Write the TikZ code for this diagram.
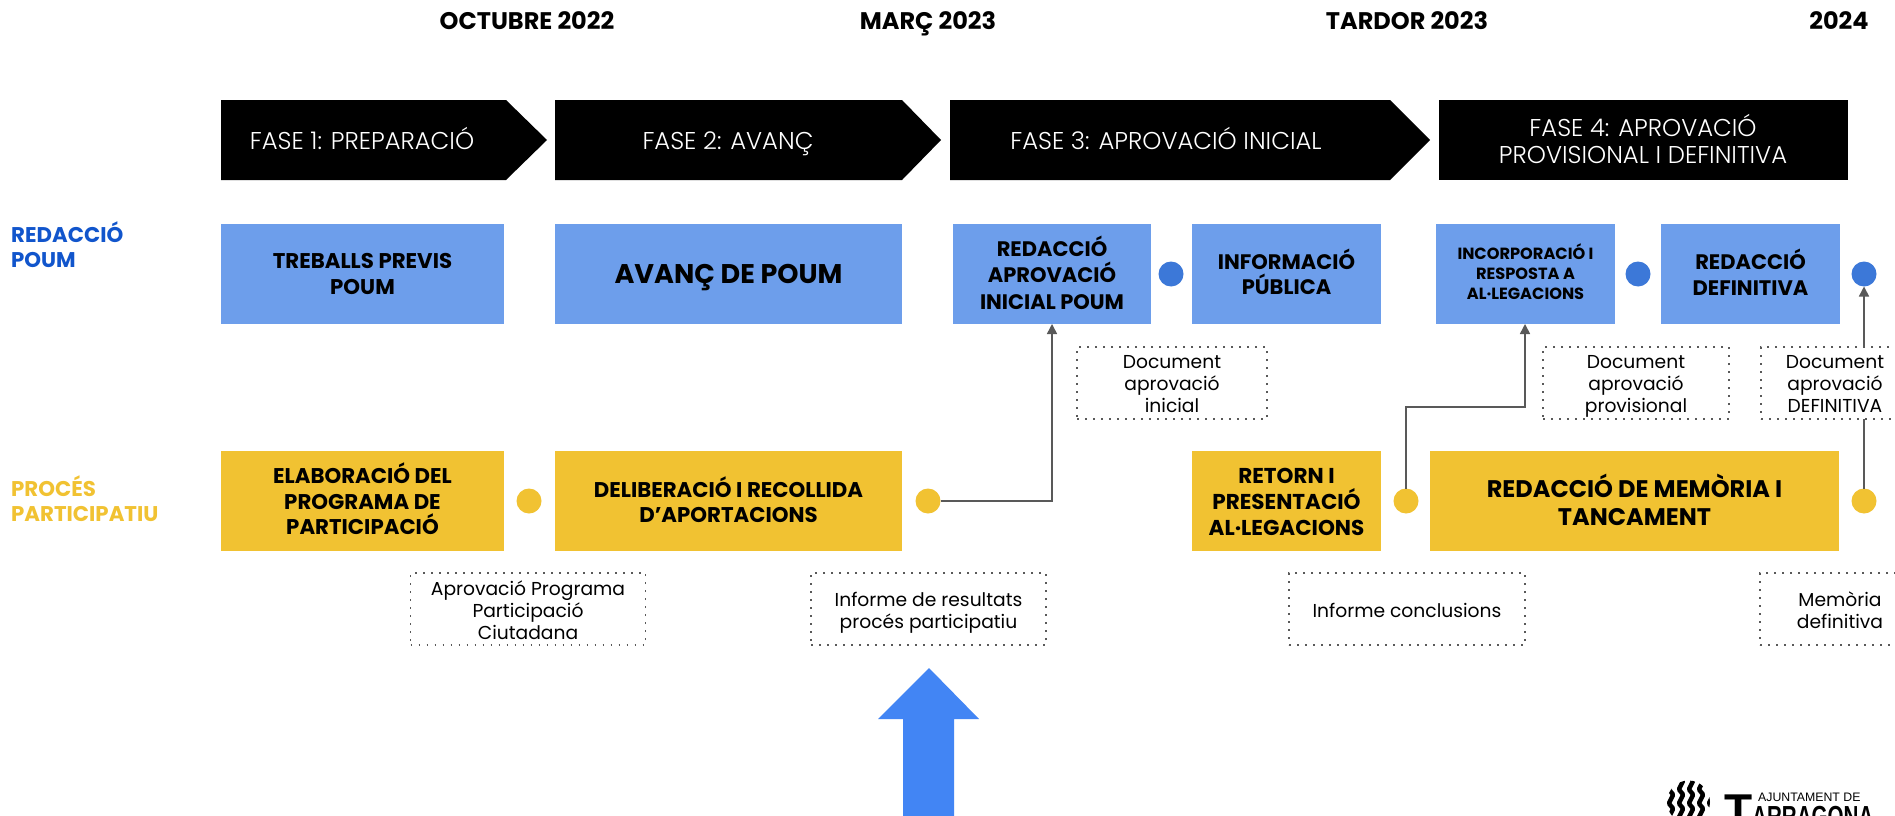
\documentclass[tikz,border=0pt]{standalone}
\usepackage{fontspec}
\setmainfont{Poppins}
\newfontfamily\lightf{Poppins Light}
\newfontfamily\logof{Liberation Sans}
\usetikzlibrary{arrows.meta}
\definecolor{bluebox}{HTML}{6D9EEB}
\definecolor{bluedot}{HTML}{3C78D8}
\definecolor{yel}{HTML}{F1C232}
\definecolor{bluelabel}{HTML}{1155CC}
\definecolor{bigarrow}{HTML}{4285F4}
\definecolor{conn}{HTML}{595959}
\newcommand{\fsz}[2]{\fontsize{#1}{#2}\selectfont}
\tikzset{
  x=1pt,y=-1pt,
  date/.style={font=\fsz{24}{30}\bfseries,text=black,inner sep=0pt,anchor=base},
  phasebg/.style={fill=black},
  phase/.style={font=\lightf\fsz{24.3}{26.5},text=white,align=center,inner sep=0pt},
  side/.style={font=\fsz{21.3}{25.5}\bfseries,align=left,anchor=west,inner sep=0pt},
  dot/.style={circle,minimum size=25pt,inner sep=0pt,outer sep=0pt},
  doc/.style={draw=conn,line width=1.6pt,dash pattern=on 1.6pt off 6.4pt,fill=white,minimum height=72pt,inner sep=0pt,outer sep=0pt},
  doctext/.style={inner sep=0pt,align=center,font=\fsz{18.7}{22}},
  link/.style={draw=conn,line width=1.6pt},
  tip/.style={-{Triangle[length=10pt,width=10pt]}},
}
\newcommand{\stagebox}[8][]{% opts, name colour x1 y1 x2 y2 text
  \path[fill=#3] (#4,#5) rectangle (#6,#7);
  \node[inner sep=0pt,outer sep=0pt,align=center,#1] (#2) at ({(#4+#6)/2},{(#5+#7)/2}) {#8};}
\begin{document}
\begin{tikzpicture}
\clip (0,0) rectangle (1895,816);
\fill[white] (0,0) rectangle (1895,816);

% dates
\node[date] (d1) at (527,30) {OCTUBRE 2022};
\node[date] (d2) at (928,30) {MARÇ 2023};
\node[date] (d3) at (1407,30) {TARDOR 2023};
\node[date] (d4) at (1839,30) {2024};

% phases
\fill[phasebg] (221,100) -- (506,100) -- (547,140) -- (506,180) -- (221,180) -- cycle;
\fill[phasebg] (555,100) -- (902,100) -- (941,140) -- (902,180) -- (555,180) -- cycle;
\fill[phasebg] (950,100) -- (1390,100) -- (1430,140) -- (1390,180) -- (950,180) -- cycle;
\fill[phasebg] (1439,100) rectangle (1848,180);
\node[phase,anchor=base] (f1) at (362,149.5) {FASE 1: PREPARACIÓ};
\node[phase,anchor=base] (f2) at (728,149.5) {FASE 2: AVANÇ};
\node[phase,anchor=base] (f3) at (1166,149.5) {FASE 3: APROVACIÓ INICIAL};
\node[phase] (f4) at (1643,139) {FASE 4: APROVACIÓ\\PROVISIONAL I DEFINITIVA};

% side labels
\node[side,text=bluelabel] (s1) at (11,244.6) {REDACCIÓ\\POUM};
\node[side,text=yel] (s2) at (11,498.6) {PROCÉS\\PARTICIPATIU};

% blue row
\stagebox[font=\fsz{21.3}{26}\bfseries]{b1}{bluebox}{221}{224}{504}{324}{TREBALLS PREVIS\\POUM}
\stagebox[font=\fsz{27}{33}\bfseries,text depth=0pt]{b2}{bluebox}{555}{224}{902}{324}{AVANÇ DE POUM}
\stagebox[font=\fsz{21}{26.5}\bfseries,yshift=1.5pt]{b3}{bluebox}{953}{224}{1151}{324}{REDACCIÓ\\APROVACIÓ\\INICIAL POUM}
\stagebox[font=\fsz{21}{25.5}\bfseries,yshift=2pt]{b4}{bluebox}{1192}{224}{1381}{324}{INFORMACIÓ\\PÚBLICA}
\stagebox[font=\fsz{16.2}{20}\bfseries,yshift=2.2pt]{b5}{bluebox}{1436}{224}{1615}{324}{INCORPORACIÓ I\\RESPOSTA A\\AL·LEGACIONS}
\stagebox[font=\fsz{21}{25.5}\bfseries,yshift=2pt]{b6}{bluebox}{1661}{224}{1840}{324}{REDACCIÓ\\DEFINITIVA}

% yellow row
\stagebox[font=\fsz{21.3}{25.5}\bfseries,yshift=2pt]{y1}{yel}{221}{451}{504}{551}{ELABORACIÓ DEL\\PROGRAMA DE\\PARTICIPACIÓ}
\stagebox[font=\fsz{21.3}{25.5}\bfseries,yshift=1.5pt]{y2}{yel}{555}{451}{902}{551}{DELIBERACIÓ I RECOLLIDA\\D’APORTACIONS}
\stagebox[font=\fsz{21.5}{26}\bfseries,yshift=-0.5pt]{y3}{yel}{1192}{451}{1381}{551}{RETORN I\\PRESENTACIÓ\\AL·LEGACIONS}
\stagebox[font=\fsz{24}{28}\bfseries,yshift=1pt]{y4}{yel}{1430}{451}{1839}{551}{REDACCIÓ DE MEMÒRIA I\\TANCAMENT}

% dots
\node[dot,fill=bluedot] (bd1) at (1171,274) {};
\node[dot,fill=bluedot] (bd2) at (1638,274) {};
\node[dot,fill=bluedot] (bd3) at (1864,274) {};
\node[dot,fill=yel] (yd1) at (529,501) {};
\node[dot,fill=yel] (yd2) at (928,501) {};
\node[dot,fill=yel] (yd3) at (1406,501) {};
\node[dot,fill=yel] (yd4) at (1864,501) {};

% connectors
\coordinate (c1) at (1052,324);
\coordinate (c2) at (1525,324);
\coordinate (c3) at (1525,407);
\draw[link,tip] (yd2.east) -| (c1);
\draw[link,tip] (yd3.north) |- (c3) -- (c2);
\draw[link,tip] (yd4.north) -- (bd3.south);

% documents
\node[doc,minimum width=190pt] (n1) at (1172,383) {};
\node[doc,minimum width=186pt] (n2) at (1636,383) {};
\node[doc,minimum width=148pt] (n3) at (1835,383) {};
\node[doc,minimum width=235pt] (n4) at (528,609) {};
\node[doc,minimum width=235pt] (n5) at (928.5,609) {};
\node[doc,minimum width=236pt] (n6) at (1407,609) {};
\node[doc,minimum width=160pt] (n7) at (1840,609) {};
\node[doctext] (t1) at (1172,384.2) {Document\\aprovació\\inicial};
\node[doctext] (t2) at (1636,386.6) {Document\\aprovació\\provisional};
\node[doctext] (t3) at (1835,384.2) {Document\\aprovació\\DEFINITIVA};
\node[doctext] (t4) at (528,610.2) {Aprovació Programa\\Participació\\Ciutadana};
\node[doctext] (t5) at (928.5,613) {Informe de resultats\\procés participatiu};
\node[doctext] (t6) at (1407,610.2) {Informe conclusions};
\node[doctext] (t7) at (1840,610.2) {Memòria\\definitiva};

% big arrow
\fill[bigarrow] (929,668) -- (979,719) -- (954,719) -- (954,816) -- (903,816) -- (903,719) -- (878,719) -- cycle;

% logo
\begin{scope}
\clip (1688.5,802) circle (21.5);
\foreach \cx in {1671,1681,1691,1701,1711}{
  \draw[line width=4.5pt,black] (\cx,778) .. controls (\cx+6,783) and (\cx-6,787) .. (\cx,792)
     .. controls (\cx+6,797) and (\cx-6,801) .. (\cx,806)
     .. controls (\cx+6,811) and (\cx-6,815) .. (\cx,820);
}
\end{scope}
\node[inner sep=0pt,anchor=base west,font=\logof\fsz{46}{46}\bfseries] (lt) at (1724,826) {T};
\node[inner sep=0pt,anchor=base west,font=\logof\fsz{29}{29}\bfseries,xscale=.71] (la) at (1752,826) {ARRAGONA};
\node[inner sep=0pt,anchor=west,font=\logof\fsz{12.3}{12}] (lb) at (1758,797) {AJUNTAMENT DE};
\end{tikzpicture}
\end{document}
